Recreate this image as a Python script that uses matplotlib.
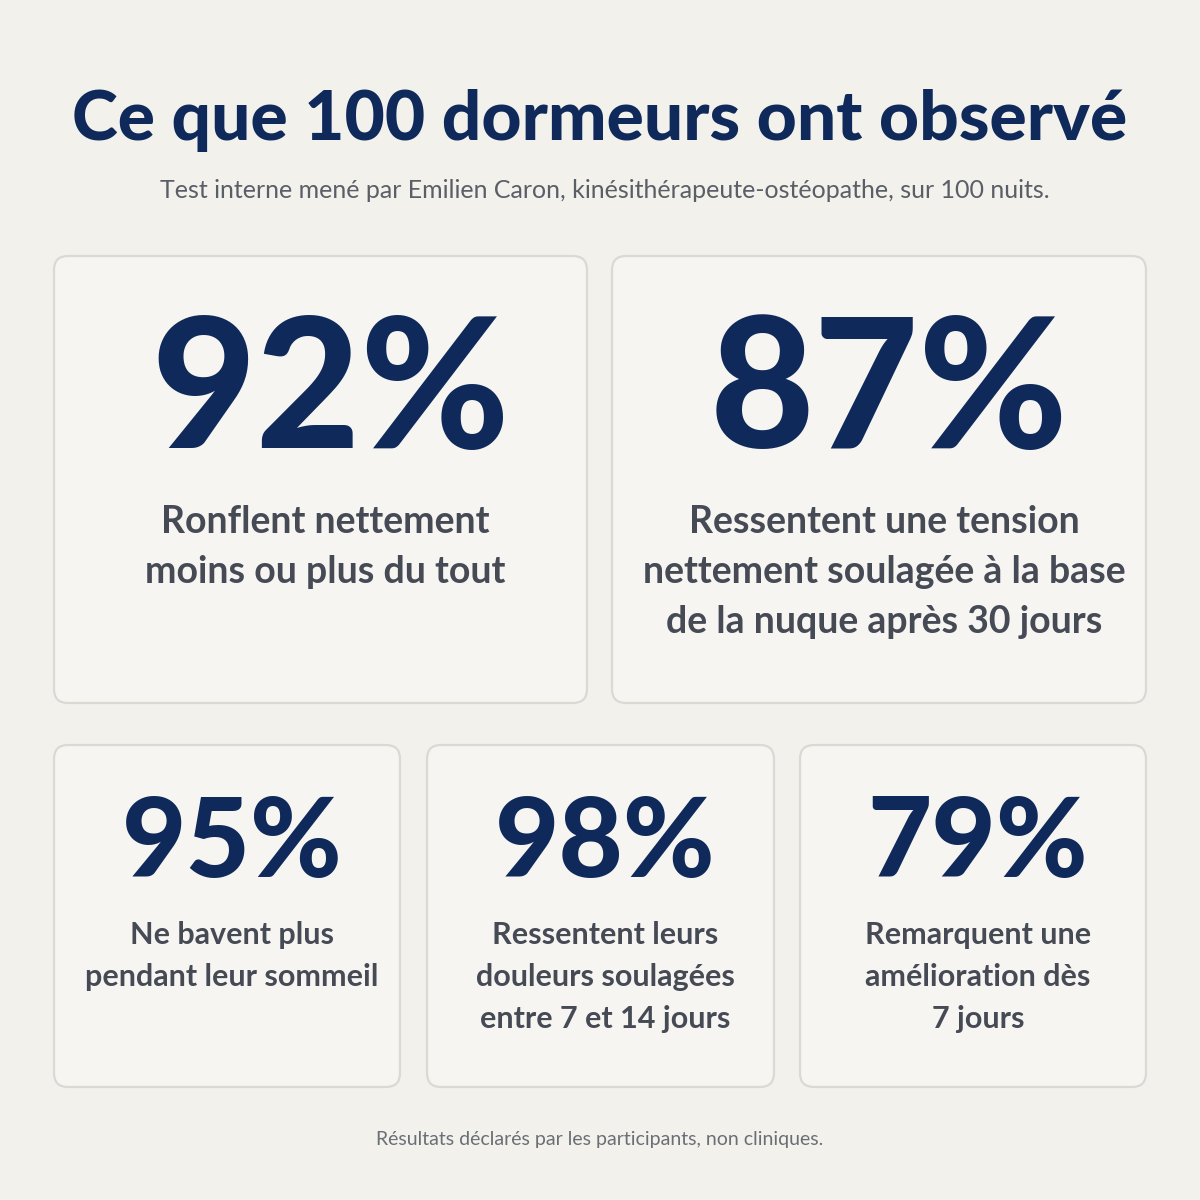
import matplotlib
matplotlib.use("Agg")
import matplotlib.pyplot as plt
from matplotlib.patches import FancyBboxPatch

title = "Ce que 100 dormeurs ont observé"
subtitle = "Test interne mené par Emilien Caron, kinésithérapeute-ostéopathe, sur 100 nuits."
values = [92, 87, 95, 98, 79]
labels = [
    "Ronflent nettement\nmoins ou plus du tout",
    "Ressentent une tension\nnettement soulagée à la base\nde la nuque après 30 jours",
    "Ne bavent plus\npendant leur sommeil",
    "Ressentent leurs\ndouleurs soulagées\nentre 7 et 14 jours",
    "Remarquent une\namélioration dès\n7 jours",
]
footnote = "Résultats déclarés par les participants, non cliniques."

BG = "#f3f1ec"; CARD = "#f6f5f1"; EDGE = "#dcd9d3"; NAVY = "#0f2a5a"; GRAY = "#454a55"
FAM = ["Lato", "DejaVu Sans"]

fig = plt.figure(figsize=(12, 12), dpi=100, facecolor=BG)
ax = fig.add_axes([0, 0, 1, 1])
ax.set_xlim(0, 1200); ax.set_ylim(1200, 0); ax.axis("off")

ax.text(600, 120, title, ha="center", va="center", fontsize=50, fontweight="black", color=NAVY, family=FAM)
ax.text(605, 191, subtitle, ha="center", va="center", fontsize=18, color="#5a5e66", family=FAM)

cards = [(54, 256, 533, 447), (612, 256, 534, 447),
         (54, 745, 346, 342), (427, 745, 347, 342), (800, 745, 346, 342)]
for i, (x, y, w, h) in enumerate(cards):
    ax.add_patch(FancyBboxPatch((x, y), w, h, boxstyle="round,pad=0,rounding_size=14",
                                fc=CARD, ec=EDGE, lw=1.6))
    cx = x + w / 2
    if i < 2:
        ax.text(cx + 10, 395, f"{values[i]}%", ha="center", va="center", fontsize=130,
                fontweight="black", color=NAVY, family=FAM)
        ax.text(cx + 5, 505, labels[i], ha="center", va="top", fontsize=27,
                fontweight="bold", color=GRAY, family=FAM, linespacing=1.58)
    else:
        ax.text(cx + 5, 845, f"{values[i]}%", ha="center", va="center", fontsize=80,
                fontweight="black", color=NAVY, family=FAM)
        ax.text(cx + 5, 921, labels[i], ha="center", va="top", fontsize=22,
                fontweight="bold", color=GRAY, family=FAM, linespacing=1.6)

ax.text(600, 1140, footnote, ha="center", va="center", fontsize=14, color="#6a6e75", family=FAM)
fig.savefig("out.png", dpi=100, facecolor=BG)
